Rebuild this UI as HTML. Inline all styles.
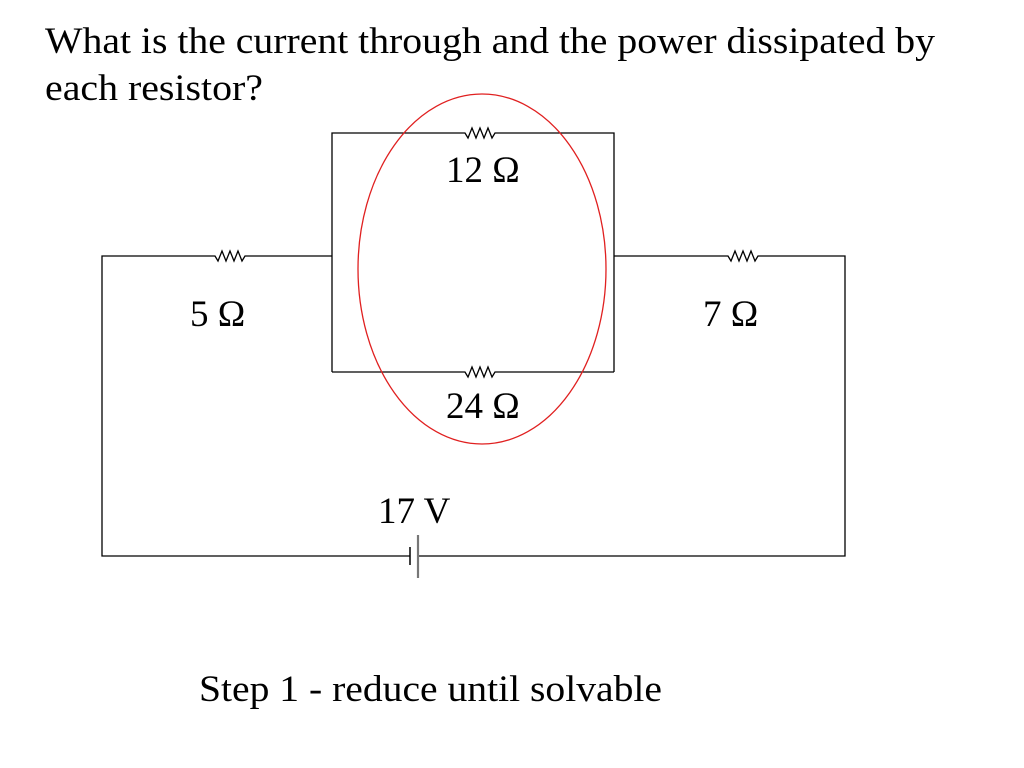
<!DOCTYPE html>
<html><head><style>
html,body{margin:0;padding:0;background:#fff;width:1024px;height:768px;overflow:hidden}
svg text{font-family:"Liberation Serif",serif;fill:#000}
</style></head><body>
<svg width="1024" height="768" viewBox="0 0 1024 768" xmlns="http://www.w3.org/2000/svg">
<text x="45" y="53" font-size="37" textLength="890" lengthAdjust="spacingAndGlyphs">What is the current through and the power dissipated by</text>
<text x="45" y="100" font-size="37" textLength="218" lengthAdjust="spacingAndGlyphs">each resistor?</text>
<g fill="none" stroke="#000" stroke-width="1.3">
<!-- left -->
<polyline points="332,256 250,256 245,256 242,261 238,251 234,261 230,251 226,261 222,251 218,261 215,256 102,256 102,556 410,556"/>
<!-- right -->
<polyline points="614,256 728,256 731,261 735,251 739,261 743,251 747,261 751,251 755,261 758,256 845,256 845,556 418,556"/>
<!-- box top -->
<polyline points="332,372 332,133 465,133 468,138 472,128 476,138 480,128 484,138 488,128 492,138 495,133 614,133 614,372"/>
<!-- box bottom -->
<polyline points="332,372 465,372 468,377 472,367 476,377 480,367 484,377 488,367 492,377 495,372 614,372"/>
</g>
<line x1="410" y1="547" x2="410" y2="565" stroke="#000" stroke-width="1.5"/>
<line x1="418" y1="535" x2="418" y2="578" stroke="#777" stroke-width="2.2"/>
<ellipse cx="482" cy="269" rx="124" ry="175" fill="none" stroke="#e02020" stroke-width="1.3"/>
<text x="446" y="182" font-size="37">12 Ω</text>
<text x="190" y="326" font-size="37">5 Ω</text>
<text x="703" y="326" font-size="37">7 Ω</text>
<text x="446" y="418" font-size="37">24 Ω</text>
<text x="378" y="523" font-size="37">17 V</text>
<text x="199" y="701" font-size="37" textLength="463" lengthAdjust="spacingAndGlyphs">Step 1 - reduce until solvable</text>
</svg>
</body></html>
